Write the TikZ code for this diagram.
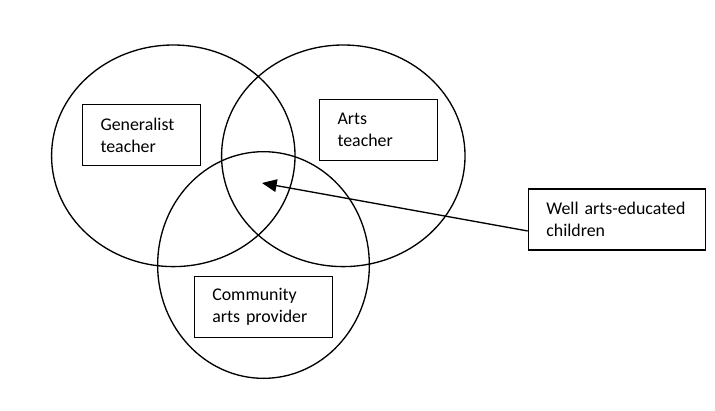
\documentclass[tikz,border=0pt]{standalone}
\usepackage{fontspec}
\setmainfont{Carlito}
\usetikzlibrary{arrows.meta}
\tikzset{
    venn/.style={draw,line width=1pt},
    box/.style={draw,line width=1pt,rectangle,align=left,text width=#1,inner xsep=13.5pt,inner ysep=0pt,minimum height=45.75pt,font=\fontsize{13.4}{16.5}\selectfont},
    pointer/.style={line width=1pt,-{Triangle[length=11pt,width=9.5pt]}}
}
\begin{document}
\begin{tikzpicture}[x=0.75pt,y=-0.75pt]
    \useasboundingbox (0,0) rectangle (715,411);
    \draw[venn] (173.3,155.8) ellipse [x radius=91.3pt, y radius=83.1pt];
    \draw[venn] (343.3,155.8) ellipse [x radius=91.3pt, y radius=83.1pt];
    \draw[venn] (263.5,265) ellipse [x radius=79.4pt, y radius=85pt];
    \node[box=61.5pt] (generalist) at (141.5,135) {Generalist\\teacher};
    \node[box=61.5pt] (arts) at (378.5,130) {Arts\\teacher};
    \node[box=76.5pt] (community) at (263.3,306.8) {Community\\arts provider};
    \node[box=106pt] (well) at (617,219.5) {Well arts-educated\\children};
    \coordinate (middle) at (262,183);
    \draw[pointer] ([yshift=-8.6pt]well.west) -- (middle);
\end{tikzpicture}
\end{document}
